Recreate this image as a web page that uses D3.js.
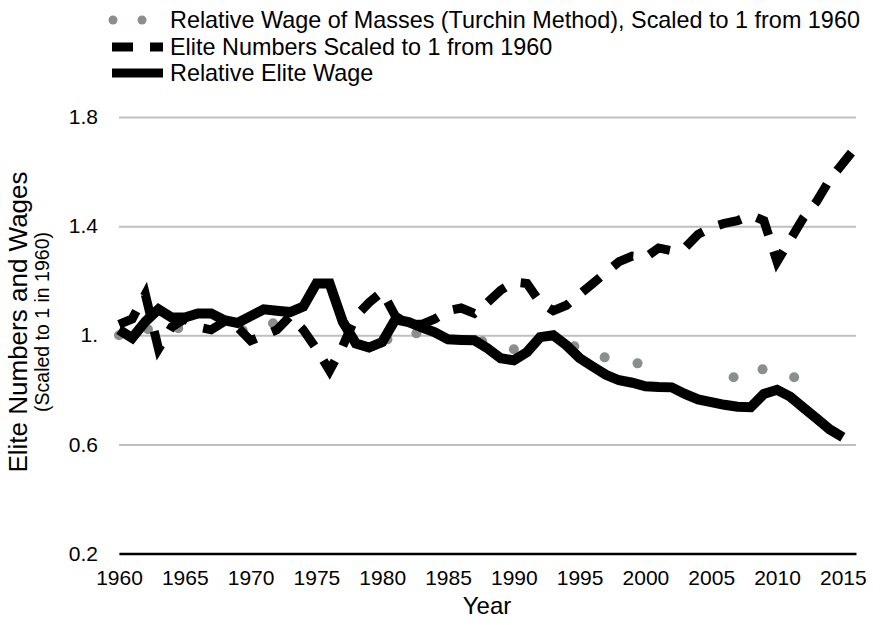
<!DOCTYPE html>
<html>
<head>
<meta charset="utf-8">
<script src="https://cdn.jsdelivr.net/npm/d3@7"></script>
<style>
  body { margin: 0; background: #fff; }
  svg text { font-family: "Liberation Sans", Arial, Helvetica, sans-serif; fill: #000; }
</style>
</head>
<body>
<div id="chart"></div>
<script>
// categories (one per year)
var years = [1960, 1961, 1962, 1963, 1964, 1965, 1966, 1967, 1968, 1969,
             1970, 1971, 1972, 1973, 1974, 1975, 1976, 1977, 1978, 1979,
             1980, 1981, 1982, 1983, 1984, 1985, 1986, 1987, 1988, 1989,
             1990, 1991, 1992, 1993, 1994, 1995, 1996, 1997, 1998, 1999,
             2000, 2001, 2002, 2003, 2004, 2005, 2006, 2007, 2008, 2009,
             2010, 2011, 2012, 2013, 2014, 2015, 2016];

// Elite Numbers Scaled to 1 from 1960 (1960-2016)
var eliteNumbers = [1.04, 1.06, 1.15, 0.95, 1.03, 1.06, 1.03, 1.02, 1.05, 1.03,
                    0.98, 1.00, 1.02, 1.07, 1.02, 0.95, 0.87, 0.96, 1.07, 1.12,
                    1.16, 1.07, 1.04, 1.04, 1.06, 1.09, 1.10, 1.08, 1.12, 1.165,
                    1.195, 1.19, 1.12, 1.09, 1.11, 1.15, 1.19, 1.23, 1.27, 1.29,
                    1.285, 1.32, 1.31, 1.32, 1.37, 1.395, 1.41, 1.42, 1.44, 1.42,
                    1.27, 1.35, 1.43, 1.49, 1.57, 1.63, 1.69];

// Relative Elite Wage (1960-2015)
var eliteWage = [1.02, 0.99, 1.05, 1.095, 1.065, 1.065, 1.08, 1.08, 1.055, 1.045,
                 1.07, 1.095, 1.09, 1.085, 1.105, 1.19, 1.19, 1.05, 0.97, 0.955,
                 0.975, 1.058, 1.048, 1.029, 1.011, 0.985, 0.983, 0.982, 0.952, 0.916,
                 0.908, 0.938, 0.993, 1.0, 0.963, 0.916, 0.885, 0.855, 0.835, 0.826,
                 0.813, 0.81, 0.809, 0.785, 0.765, 0.755, 0.745, 0.738, 0.736, 0.785,
                 0.80, 0.775, 0.735, 0.695, 0.655, 0.626];

// Relative Wage of Masses (Turchin Method) - markers only
var massYears  = [1960, 1962.2, 1964.5, 1969.4, 1971.7, 1980.4, 1982.6, 1987.6,
                  1990.0, 1994.6, 1996.9, 1999.4, 2006.7, 2008.9, 2011.3];
var massValues = [1.0, 1.022, 1.026, 1.018, 1.044, 0.985, 1.007, 0.978,
                  0.949, 0.96, 0.919, 0.897, 0.846, 0.875, 0.846];

var xTicks = [1960, 1965, 1970, 1975, 1980, 1985, 1990, 1995, 2000, 2005, 2010, 2015];
var yTicks = [0.2, 0.6, 1.0, 1.4, 1.8];
var yTickLabels = ["0.2", "0.6", "1.", "1.4", "1.8"];

var legendNames = ["Relative Wage of Masses (Turchin Method), Scaled to 1 from 1960",
                   "Elite Numbers Scaled to 1 from 1960",
                   "Relative Elite Wage"];

var width = 880, height = 625;
var plotLeft = 119, plotRight = 856, plotTop = 117, plotBottom = 553.5;

var svg = d3.select("#chart").append("svg")
    .attr("width", width)
    .attr("height", height);

var x = d3.scaleLinear().domain([1960, 2016]).range([plotLeft, plotRight]);
var y = d3.scaleLinear().domain([0.2, 1.8]).range([plotBottom, plotTop]);

// y axis + gridlines
var yAxis = svg.append("g")
    .attr("transform", "translate(" + plotLeft + ",0)")
    .call(d3.axisLeft(y)
        .tickValues(yTicks)
        .tickSize(-(plotRight - plotLeft))
        .tickPadding(21)
        .tickFormat(function(d, i) { return yTickLabels[i]; }));
yAxis.select(".domain").remove();
yAxis.selectAll(".tick line").attr("stroke", "#bfbfbf").attr("stroke-width", 2);
yAxis.selectAll(".tick text").style("font-size", "21px");

// x axis
var xAxis = svg.append("g")
    .attr("transform", "translate(0," + plotBottom + ")")
    .call(d3.axisBottom(x)
        .tickValues(xTicks)
        .tickSize(0)
        .tickPadding(17)
        .tickFormat(d3.format("d")));
xAxis.select(".domain").attr("stroke", "#000").attr("stroke-width", 2.5);
xAxis.selectAll(".tick text").style("font-size", "21px");

// masses dots
svg.append("g").selectAll("circle")
    .data(massYears)
    .enter().append("circle")
    .attr("cx", function(d) { return x(d); })
    .attr("cy", function(d, i) { return y(massValues[i]); })
    .attr("r", 5)
    .attr("fill", "#8a8f8d");

var line = d3.line()
    .x(function(d) { return x(d[0]); })
    .y(function(d) { return y(d[1]); });

// elite numbers, dashed
svg.append("path")
    .datum(eliteNumbers.map(function(v, i) { return [years[i], v]; }))
    .attr("d", line)
    .attr("fill", "none")
    .attr("stroke", "#000")
    .attr("stroke-width", 9)
    .attr("stroke-dasharray", "23,17")
    .attr("stroke-linejoin", "miter");

// elite wage, solid
svg.append("path")
    .datum(eliteWage.map(function(v, i) { return [years[i], v]; }))
    .attr("d", line)
    .attr("fill", "none")
    .attr("stroke", "#000")
    .attr("stroke-width", 10)
    .attr("stroke-linejoin", "miter");

// legend
var legend = svg.append("g");
legend.selectAll("circle")
    .data([113, 142])
    .enter().append("circle")
    .attr("cx", function(d) { return d; })
    .attr("cy", 20)
    .attr("r", 4.5)
    .attr("fill", "#8a8f8d");
legend.append("line")
    .attr("x1", 112).attr("x2", 163).attr("y1", 47).attr("y2", 47)
    .attr("stroke", "#000").attr("stroke-width", 9)
    .attr("stroke-dasharray", "21,17");
legend.append("line")
    .attr("x1", 112).attr("x2", 163).attr("y1", 73).attr("y2", 73)
    .attr("stroke", "#000").attr("stroke-width", 9);
legend.selectAll("text")
    .data(legendNames)
    .enter().append("text")
    .attr("x", 170)
    .attr("y", function(d, i) { return [20, 47, 73][i]; })
    .attr("dy", "0.35em")
    .style("font-size", "23.4px")
    .text(function(d) { return d; });

// axis titles
svg.append("text")
    .attr("transform", "translate(27,322) rotate(-90)")
    .attr("text-anchor", "middle")
    .style("font-size", "26px")
    .text("Elite Numbers and Wages");
svg.append("text")
    .attr("transform", "translate(49,322) rotate(-90)")
    .attr("text-anchor", "middle")
    .style("font-size", "19.5px")
    .text("(Scaled to 1 in 1960)");
svg.append("text")
    .attr("x", 487)
    .attr("y", 614)
    .attr("text-anchor", "middle")
    .style("font-size", "24px")
    .text("Year");
</script>
</body>
</html>
